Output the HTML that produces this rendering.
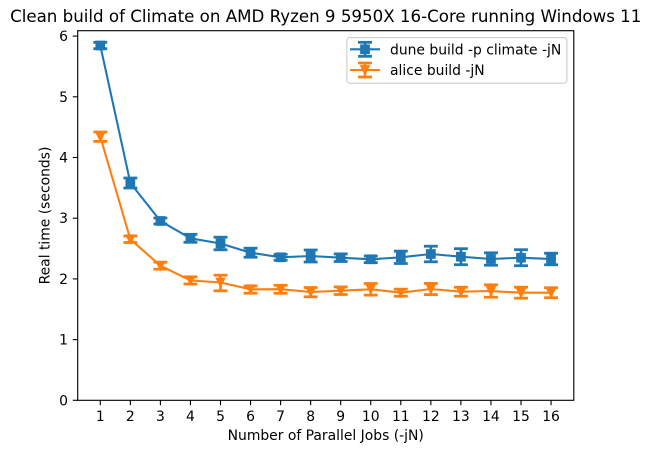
<!DOCTYPE html>
<html>
<head>
<meta charset="utf-8">
<style>
  html, body { margin: 0; padding: 0; background: #ffffff; }
  svg { display: block; }
  text { font-family: "DejaVu Sans", "Liberation Sans", sans-serif; fill: #000; }
</style>
</head>
<body>
<svg width="651" height="453" viewBox="0 0 651 453" xmlns="http://www.w3.org/2000/svg">
  <rect x="0" y="0" width="651" height="453" fill="#ffffff"/>

  <!-- Title -->
  <text x="325.75" y="22" font-size="16.67" text-anchor="middle">Clean build of Climate on AMD Ryzen 9 5950X 16-Core running Windows 11</text>

  <!-- Axes frame -->
  <rect x="77.7" y="30.7" width="496.1" height="369.6" fill="none" stroke="#000" stroke-width="1.11"/>

  <!-- Y ticks -->
  <g stroke="#000" stroke-width="1.11">
    <line x1="72.8" y1="400.3" x2="77.7" y2="400.3"/>
    <line x1="72.8" y1="339.6" x2="77.7" y2="339.6"/>
    <line x1="72.8" y1="278.9" x2="77.7" y2="278.9"/>
    <line x1="72.8" y1="218.2" x2="77.7" y2="218.2"/>
    <line x1="72.8" y1="157.5" x2="77.7" y2="157.5"/>
    <line x1="72.8" y1="96.8" x2="77.7" y2="96.8"/>
    <line x1="72.8" y1="36.1" x2="77.7" y2="36.1"/>
  </g>
  <g font-size="13.9" text-anchor="end">
    <text x="68" y="405.3">0</text>
    <text x="68" y="344.6">1</text>
    <text x="68" y="283.9">2</text>
    <text x="68" y="223.2">3</text>
    <text x="68" y="162.5">4</text>
    <text x="68" y="101.8">5</text>
    <text x="68" y="41.1">6</text>
  </g>

  <!-- X ticks -->
  <g stroke="#000" stroke-width="1.11">
    <line x1="100.3" y1="400.3" x2="100.3" y2="405.2"/>
    <line x1="130.35" y1="400.3" x2="130.35" y2="405.2"/>
    <line x1="160.4" y1="400.3" x2="160.4" y2="405.2"/>
    <line x1="190.45" y1="400.3" x2="190.45" y2="405.2"/>
    <line x1="220.5" y1="400.3" x2="220.5" y2="405.2"/>
    <line x1="250.55" y1="400.3" x2="250.55" y2="405.2"/>
    <line x1="280.6" y1="400.3" x2="280.6" y2="405.2"/>
    <line x1="310.65" y1="400.3" x2="310.65" y2="405.2"/>
    <line x1="340.7" y1="400.3" x2="340.7" y2="405.2"/>
    <line x1="370.75" y1="400.3" x2="370.75" y2="405.2"/>
    <line x1="400.8" y1="400.3" x2="400.8" y2="405.2"/>
    <line x1="430.85" y1="400.3" x2="430.85" y2="405.2"/>
    <line x1="460.9" y1="400.3" x2="460.9" y2="405.2"/>
    <line x1="490.95" y1="400.3" x2="490.95" y2="405.2"/>
    <line x1="521.0" y1="400.3" x2="521.0" y2="405.2"/>
    <line x1="551.05" y1="400.3" x2="551.05" y2="405.2"/>
  </g>
  <g font-size="13.9" text-anchor="middle">
    <text x="100.3" y="421">1</text>
    <text x="130.35" y="421">2</text>
    <text x="160.4" y="421">3</text>
    <text x="190.45" y="421">4</text>
    <text x="220.5" y="421">5</text>
    <text x="250.55" y="421">6</text>
    <text x="280.6" y="421">7</text>
    <text x="310.65" y="421">8</text>
    <text x="340.7" y="421">9</text>
    <text x="370.75" y="421">10</text>
    <text x="400.8" y="421">11</text>
    <text x="430.85" y="421">12</text>
    <text x="460.9" y="421">13</text>
    <text x="490.95" y="421">14</text>
    <text x="521.0" y="421">15</text>
    <text x="551.05" y="421">16</text>
  </g>

  <!-- Axis labels -->
  <text x="325.75" y="440" font-size="13.9" text-anchor="middle">Number of Parallel Jobs (-jN)</text>
  <text transform="translate(49.5,215.5) rotate(-90)" x="0" y="0" font-size="13.9" text-anchor="middle">Real time (seconds)</text>

  <!-- Blue series: dune build -->
  <g stroke="#1f77b4" fill="#1f77b4">
    <polyline fill="none" stroke-width="2.08" stroke-linejoin="round" stroke-linecap="square"
      points="100.3,45.5 130.35,183 160.4,221 190.45,238.3 220.5,243.5 250.55,252.7 280.6,257.3 310.65,256 340.7,257.7 370.75,259.3 400.8,257.3 430.85,254 460.9,256.7 490.95,259 521.0,257.7 551.05,259"/>
    <!-- error bars: vertical -->
    <g stroke-width="2.6">
      <line x1="100.3" y1="42.3" x2="100.3" y2="48.7"/>
      <line x1="130.35" y1="178" x2="130.35" y2="188"/>
      <line x1="160.4" y1="218" x2="160.4" y2="224"/>
      <line x1="190.45" y1="234.3" x2="190.45" y2="242.3"/>
      <line x1="220.5" y1="237.2" x2="220.5" y2="249.8"/>
      <line x1="250.55" y1="248.2" x2="250.55" y2="257.2"/>
      <line x1="280.6" y1="254.3" x2="280.6" y2="260.3"/>
      <line x1="310.65" y1="250" x2="310.65" y2="262"/>
      <line x1="340.7" y1="253.9" x2="340.7" y2="261.5"/>
      <line x1="370.75" y1="256" x2="370.75" y2="262.6"/>
      <line x1="400.8" y1="251.1" x2="400.8" y2="263.5"/>
      <line x1="430.85" y1="246.2" x2="430.85" y2="261.8"/>
      <line x1="460.9" y1="248.7" x2="460.9" y2="264.7"/>
      <line x1="490.95" y1="252.8" x2="490.95" y2="265.2"/>
      <line x1="521.0" y1="249.7" x2="521.0" y2="265.7"/>
      <line x1="551.05" y1="253.2" x2="551.05" y2="264.8"/>
    </g>
    <!-- markers -->
    <g stroke-width="1.39">
      <rect x="96.13" y="41.33" width="8.33" height="8.33"/>
      <rect x="126.18" y="178.83" width="8.33" height="8.33"/>
      <rect x="156.23" y="216.83" width="8.33" height="8.33"/>
      <rect x="186.28" y="234.13" width="8.33" height="8.33"/>
      <rect x="216.33" y="239.33" width="8.33" height="8.33"/>
      <rect x="246.38" y="248.53" width="8.33" height="8.33"/>
      <rect x="276.43" y="253.13" width="8.33" height="8.33"/>
      <rect x="306.48" y="251.83" width="8.33" height="8.33"/>
      <rect x="336.53" y="253.53" width="8.33" height="8.33"/>
      <rect x="366.58" y="255.13" width="8.33" height="8.33"/>
      <rect x="396.63" y="253.13" width="8.33" height="8.33"/>
      <rect x="426.68" y="249.83" width="8.33" height="8.33"/>
      <rect x="456.73" y="252.53" width="8.33" height="8.33"/>
      <rect x="486.78" y="254.83" width="8.33" height="8.33"/>
      <rect x="516.83" y="253.53" width="8.33" height="8.33"/>
      <rect x="546.88" y="254.83" width="8.33" height="8.33"/>
    </g>
    <!-- caps -->
    <g stroke-width="2.78">
      <line x1="93.35" y1="42.3" x2="107.25" y2="42.3"/><line x1="93.35" y1="48.7" x2="107.25" y2="48.7"/>
      <line x1="123.4" y1="178" x2="137.3" y2="178"/><line x1="123.4" y1="188" x2="137.3" y2="188"/>
      <line x1="153.45" y1="218" x2="167.35" y2="218"/><line x1="153.45" y1="224" x2="167.35" y2="224"/>
      <line x1="183.5" y1="234.3" x2="197.4" y2="234.3"/><line x1="183.5" y1="242.3" x2="197.4" y2="242.3"/>
      <line x1="213.55" y1="237.2" x2="227.45" y2="237.2"/><line x1="213.55" y1="249.8" x2="227.45" y2="249.8"/>
      <line x1="243.6" y1="248.2" x2="257.5" y2="248.2"/><line x1="243.6" y1="257.2" x2="257.5" y2="257.2"/>
      <line x1="273.65" y1="254.3" x2="287.55" y2="254.3"/><line x1="273.65" y1="260.3" x2="287.55" y2="260.3"/>
      <line x1="303.7" y1="250" x2="317.6" y2="250"/><line x1="303.7" y1="262" x2="317.6" y2="262"/>
      <line x1="333.75" y1="253.9" x2="347.65" y2="253.9"/><line x1="333.75" y1="261.5" x2="347.65" y2="261.5"/>
      <line x1="363.8" y1="256" x2="377.7" y2="256"/><line x1="363.8" y1="262.6" x2="377.7" y2="262.6"/>
      <line x1="393.85" y1="251.1" x2="407.75" y2="251.1"/><line x1="393.85" y1="263.5" x2="407.75" y2="263.5"/>
      <line x1="423.9" y1="246.2" x2="437.8" y2="246.2"/><line x1="423.9" y1="261.8" x2="437.8" y2="261.8"/>
      <line x1="453.95" y1="248.7" x2="467.85" y2="248.7"/><line x1="453.95" y1="264.7" x2="467.85" y2="264.7"/>
      <line x1="484.0" y1="252.8" x2="497.9" y2="252.8"/><line x1="484.0" y1="265.2" x2="497.9" y2="265.2"/>
      <line x1="514.05" y1="249.7" x2="527.95" y2="249.7"/><line x1="514.05" y1="265.7" x2="527.95" y2="265.7"/>
      <line x1="544.1" y1="253.2" x2="558.0" y2="253.2"/><line x1="544.1" y1="264.8" x2="558.0" y2="264.8"/>
    </g>
  </g>

  <!-- Orange series: alice build -->
  <g stroke="#ff7f0e" fill="#ff7f0e">
    <polyline fill="none" stroke-width="2.08" stroke-linejoin="round" stroke-linecap="square"
      points="100.3,136.7 130.35,239.3 160.4,265.7 190.45,280.4 220.5,282.5 250.55,289.3 280.6,289.2 310.65,292 340.7,290.7 370.75,289.3 400.8,292.7 430.85,289 460.9,291.7 490.95,291 521.0,292.7 551.05,292.7"/>
    <g stroke-width="2.6">
      <line x1="100.3" y1="132" x2="100.3" y2="141.4"/>
      <line x1="130.35" y1="236.1" x2="130.35" y2="242.5"/>
      <line x1="160.4" y1="262.2" x2="160.4" y2="269.2"/>
      <line x1="190.45" y1="276.8" x2="190.45" y2="284"/>
      <line x1="220.5" y1="275.2" x2="220.5" y2="290.8"/>
      <line x1="250.55" y1="286" x2="250.55" y2="293.2"/>
      <line x1="280.6" y1="285.3" x2="280.6" y2="293.3"/>
      <line x1="310.65" y1="287.5" x2="310.65" y2="296.8"/>
      <line x1="340.7" y1="286.9" x2="340.7" y2="294.5"/>
      <line x1="370.75" y1="283.5" x2="370.75" y2="295.1"/>
      <line x1="400.8" y1="289.2" x2="400.8" y2="296.2"/>
      <line x1="430.85" y1="283.4" x2="430.85" y2="294.6"/>
      <line x1="460.9" y1="287.2" x2="460.9" y2="296.2"/>
      <line x1="490.95" y1="284.8" x2="490.95" y2="297.2"/>
      <line x1="521.0" y1="287.2" x2="521.0" y2="298.2"/>
      <line x1="551.05" y1="287.7" x2="551.05" y2="297.7"/>
    </g>
    <g stroke-width="1.39" stroke-linejoin="miter">
      <polygon points="96.13,132.53 104.47,132.53 100.3,140.87"/>
      <polygon points="126.18,235.13 134.52,235.13 130.35,243.47"/>
      <polygon points="156.23,261.53 164.57,261.53 160.4,269.87"/>
      <polygon points="186.28,276.23 194.62,276.23 190.45,284.57"/>
      <polygon points="216.33,278.33 224.67,278.33 220.5,286.67"/>
      <polygon points="246.38,285.13 254.72,285.13 250.55,293.47"/>
      <polygon points="276.43,285.03 284.77,285.03 280.6,293.37"/>
      <polygon points="306.48,287.83 314.82,287.83 310.65,296.17"/>
      <polygon points="336.53,286.53 344.87,286.53 340.7,294.87"/>
      <polygon points="366.58,285.13 374.92,285.13 370.75,293.47"/>
      <polygon points="396.63,288.53 404.97,288.53 400.8,296.87"/>
      <polygon points="426.68,284.83 435.02,284.83 430.85,293.17"/>
      <polygon points="456.73,287.53 465.07,287.53 460.9,295.87"/>
      <polygon points="486.78,286.83 495.12,286.83 490.95,295.17"/>
      <polygon points="516.83,288.53 525.17,288.53 521.0,296.87"/>
      <polygon points="546.88,288.53 555.22,288.53 551.05,296.87"/>
    </g>
    <g stroke-width="2.78">
      <line x1="93.35" y1="132" x2="107.25" y2="132"/><line x1="93.35" y1="141.4" x2="107.25" y2="141.4"/>
      <line x1="123.4" y1="236.1" x2="137.3" y2="236.1"/><line x1="123.4" y1="242.5" x2="137.3" y2="242.5"/>
      <line x1="153.45" y1="262.2" x2="167.35" y2="262.2"/><line x1="153.45" y1="269.2" x2="167.35" y2="269.2"/>
      <line x1="183.5" y1="276.8" x2="197.4" y2="276.8"/><line x1="183.5" y1="284" x2="197.4" y2="284"/>
      <line x1="213.55" y1="275.2" x2="227.45" y2="275.2"/><line x1="213.55" y1="290.8" x2="227.45" y2="290.8"/>
      <line x1="243.6" y1="286" x2="257.5" y2="286"/><line x1="243.6" y1="293.2" x2="257.5" y2="293.2"/>
      <line x1="273.65" y1="285.3" x2="287.55" y2="285.3"/><line x1="273.65" y1="293.3" x2="287.55" y2="293.3"/>
      <line x1="303.7" y1="287.5" x2="317.6" y2="287.5"/><line x1="303.7" y1="296.8" x2="317.6" y2="296.8"/>
      <line x1="333.75" y1="286.9" x2="347.65" y2="286.9"/><line x1="333.75" y1="294.5" x2="347.65" y2="294.5"/>
      <line x1="363.8" y1="283.5" x2="377.7" y2="283.5"/><line x1="363.8" y1="295.1" x2="377.7" y2="295.1"/>
      <line x1="393.85" y1="289.2" x2="407.75" y2="289.2"/><line x1="393.85" y1="296.2" x2="407.75" y2="296.2"/>
      <line x1="423.9" y1="283.4" x2="437.8" y2="283.4"/><line x1="423.9" y1="294.6" x2="437.8" y2="294.6"/>
      <line x1="453.95" y1="287.2" x2="467.85" y2="287.2"/><line x1="453.95" y1="296.2" x2="467.85" y2="296.2"/>
      <line x1="484.0" y1="284.8" x2="497.9" y2="284.8"/><line x1="484.0" y1="297.2" x2="497.9" y2="297.2"/>
      <line x1="514.05" y1="287.2" x2="527.95" y2="287.2"/><line x1="514.05" y1="298.2" x2="527.95" y2="298.2"/>
      <line x1="544.1" y1="287.7" x2="558.0" y2="287.7"/><line x1="544.1" y1="297.7" x2="558.0" y2="297.7"/>
    </g>
  </g>

  <!-- Legend -->
  <rect x="346.9" y="37.6" width="220" height="45.6" rx="2.8" ry="2.8" fill="#ffffff" fill-opacity="0.8" stroke="#cccccc" stroke-width="1.1"/>
  <g stroke="#1f77b4" fill="#1f77b4">
    <line x1="350" y1="49.3" x2="380" y2="49.3" stroke-width="2.08"/>
    <line x1="365" y1="42.3" x2="365" y2="56.3" stroke-width="2.6"/>
    <line x1="358.05" y1="42.3" x2="371.95" y2="42.3" stroke-width="2.78"/>
    <line x1="358.05" y1="56.3" x2="371.95" y2="56.3" stroke-width="2.78"/>
    <rect x="360.83" y="45.13" width="8.33" height="8.33" stroke-width="1.39"/>
  </g>
  <g stroke="#ff7f0e" fill="#ff7f0e">
    <line x1="350" y1="70" x2="380" y2="70" stroke-width="2.08"/>
    <line x1="365" y1="63" x2="365" y2="77" stroke-width="2.6"/>
    <line x1="358.05" y1="63" x2="371.95" y2="63" stroke-width="2.78"/>
    <line x1="358.05" y1="77" x2="371.95" y2="77" stroke-width="2.78"/>
    <polygon points="360.83,65.83 369.17,65.83 365,74.17" stroke-width="1.39"/>
  </g>
  <text x="390" y="54.3" font-size="13.9">dune build -p climate -jN</text>
  <text x="390" y="75" font-size="13.9">alice build -jN</text>
</svg>
</body>
</html>
